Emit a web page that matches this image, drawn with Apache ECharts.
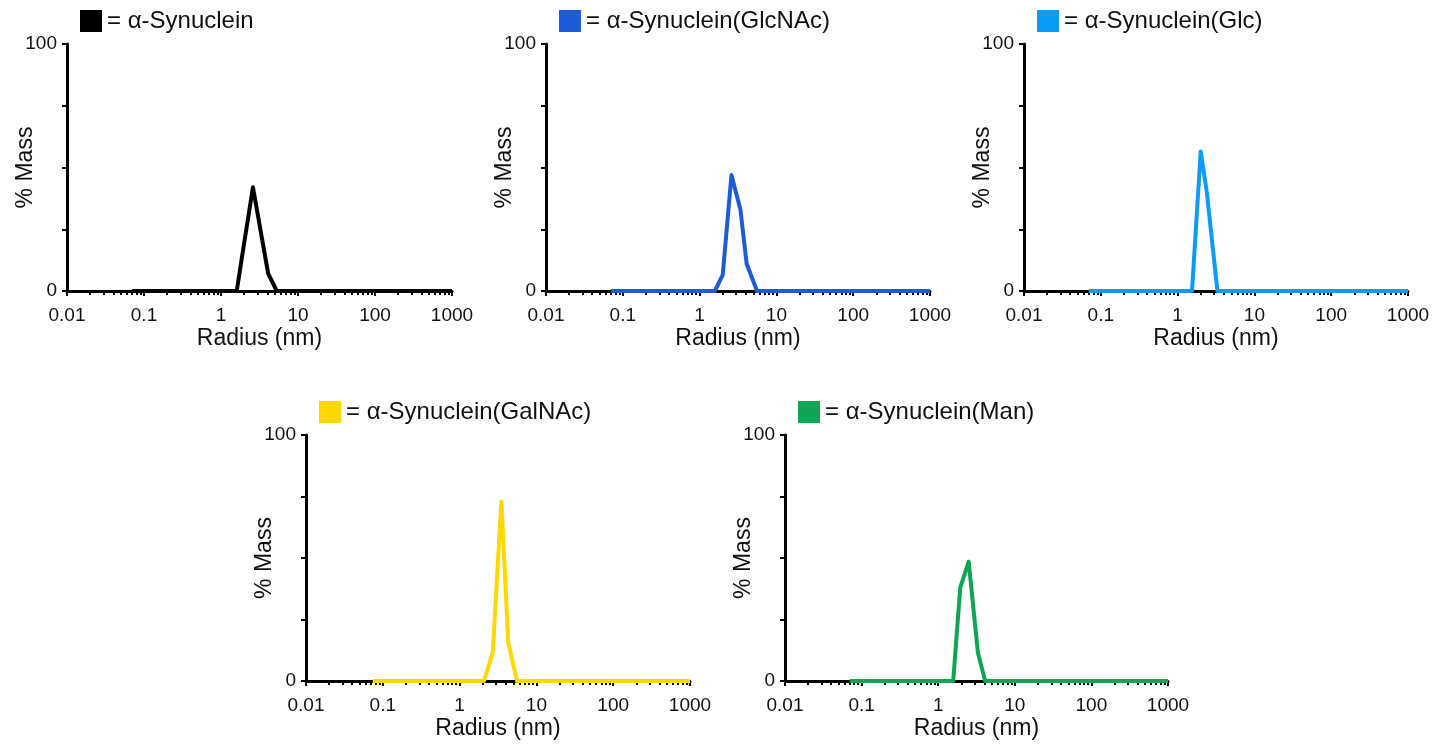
<!DOCTYPE html>
<html>
<head>
<meta charset="utf-8">
<script src="https://cdn.jsdelivr.net/npm/echarts@6/dist/echarts.min.js"></script>
<style>
  html, body { margin: 0; padding: 0; background: #fff; }
  #chart { width: 1450px; height: 748px; }
</style>
</head>
<body>
<div id="chart"></div>
<script>
// panel labels
const names = ['= α-Synuclein', '= α-Synuclein(GlcNAc)', '= α-Synuclein(Glc)', '= α-Synuclein(GalNAc)', '= α-Synuclein(Man)'];
const colors = ['#000000', '#1d5bd8', '#0c9bf6', '#fed800', '#0fa552'];

// radius (nm) / % mass
const synRadius    = [0.07, 1.6, 1.9, 2.6, 4.1, 5.3, 1000];
const synMass      = [0, 0, 15, 42, 7, 0, 0];
const glcnacRadius = [0.07, 1.58, 2.0, 2.6, 3.4, 4.1, 5.6, 1000];
const glcnacMass   = [0, 0, 6.5, 47, 33, 11, 0, 0];
const glcRadius    = [0.07, 1.54, 2.0, 2.4, 3.3, 1000];
const glcMass      = [0, 0, 56.5, 40, 0, 0];
const galnacRadius = [0.074, 2.08, 2.7, 3.5, 4.3, 5.6, 1000];
const galnacMass   = [0, 0, 11.5, 73, 15.5, 0, 0];
const manRadius    = [0.07, 1.57, 1.94, 2.5, 3.3, 4.1, 1000];
const manMass      = [0, 0, 38, 48.5, 11.5, 0, 0];

const radii = [synRadius, glcnacRadius, glcRadius, galnacRadius, manRadius];
const masses = [synMass, glcnacMass, glcMass, galnacMass, manMass];

const xTicks = [0.01, 0.1, 1, 10, 100, 1000];
const yTicks = [0, 100];

// panel boxes
const boxes = [
  {left: 67,  top: 44,  width: 385, height: 247},
  {left: 546, top: 44,  width: 384, height: 247},
  {left: 1024,top: 44,  width: 384, height: 247},
  {left: 306, top: 435, width: 384, height: 246},
  {left: 785, top: 435, width: 383, height: 246}
];

const font = 'Liberation Sans';
const chart = echarts.init(document.getElementById('chart'));

const grid = [], xAxis = [], yAxis = [], series = [], legend = [];
boxes.forEach((b, i) => {
  grid.push(Object.assign({containLabel: false}, b));
  xAxis.push({
    type: 'log', gridIndex: i, min: 0.01, max: 1000, logBase: 10,
    name: 'Radius (nm)', nameLocation: 'middle', nameGap: 36, nameMoveOverlap: false,
    nameTextStyle: {fontFamily: font, fontSize: 23, color: '#111'},
    axisLine: {lineStyle: {color: '#000', width: 3}},
    axisTick: {show: true, inside: false, length: 5, lineStyle: {color: '#000', width: 2}},
    minorTick: {show: true, splitNumber: 9, length: 4, lineStyle: {color: '#000', width: 2}},
    splitLine: {show: false},
    axisLabel: {
      fontFamily: font, fontSize: 19, color: '#111', margin: 15,
      formatter: v => xTicks.indexOf(+v) >= 0 ? String(+v) : ''
    }
  });
  yAxis.push({
    type: 'value', gridIndex: i, min: 0, max: 100, interval: 25,
    name: '% Mass', nameLocation: 'middle', nameGap: 30, nameRotate: 90, nameMoveOverlap: false,
    nameTextStyle: {fontFamily: font, fontSize: 23, color: '#111'},
    axisLine: {show: true, lineStyle: {color: '#000', width: 3}},
    axisTick: {show: true, inside: false, length: 5, lineStyle: {color: '#000', width: 2}},
    splitLine: {show: false},
    axisLabel: {
      fontFamily: font, fontSize: 19, color: '#111', margin: 10,
      formatter: v => yTicks.indexOf(v) >= 0 ? String(v) : ''
    }
  });
  series.push({
    name: names[i], type: 'line', xAxisIndex: i, yAxisIndex: i,
    data: radii[i].map((r, k) => [r, masses[i][k]]),
    showSymbol: false, symbol: 'none',
    lineStyle: {color: colors[i], width: 4, join: 'round'},
    itemStyle: {color: colors[i]},
    z: 5
  });
  legend.push({
    data: [{name: names[i], icon: 'rect'}],
    left: b.left + 13, top: b.top - 35, padding: 0,
    itemWidth: 22, itemHeight: 22, itemGap: 0,
    selectedMode: false,
    textStyle: {fontFamily: font, fontSize: 24, color: '#111'}
  });
});

chart.setOption({
  backgroundColor: '#fff',
  animation: false,
  grid: grid,
  xAxis: xAxis,
  yAxis: yAxis,
  legend: legend,
  series: series
});
</script>
</body>
</html>
